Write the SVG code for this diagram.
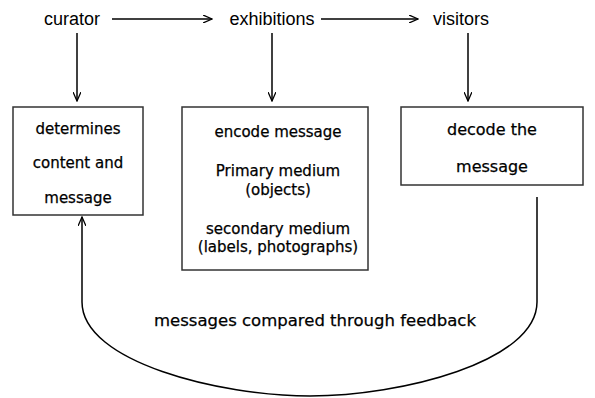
<svg xmlns="http://www.w3.org/2000/svg" width="595" height="398" viewBox="0 0 595 398">
<defs>
<marker id="ah" markerWidth="10" markerHeight="8" refX="9" refY="4" orient="auto" markerUnits="userSpaceOnUse">
<path d="M0,0 L9,4 L0,8" fill="none" stroke="#000" stroke-width="1.3"/>
</marker>
<style>
.top{font-family:"Liberation Sans",Arial,sans-serif;font-size:18px;fill:#000;text-anchor:middle}
.bx{font-family:"DejaVu Sans",sans-serif;font-size:15px;fill:#000;stroke:#000;stroke-width:0.25;text-anchor:middle}
.box{fill:#fff;stroke:#333;stroke-width:1.5}
.ln{fill:none;stroke:#000;stroke-width:1.5}
</style>
</defs>
<rect width="595" height="398" fill="#fff"/>
<g id="curator"><text class="top" x="72" y="25">curator</text></g>
<g id="exhibitions"><text class="top" x="272" y="25">exhibitions</text></g>
<g id="visitors"><text class="top" x="461" y="25">visitors</text></g>
<g id="box-curator">
<rect class="box" x="13" y="107" width="130" height="108"/>
<text class="bx" x="78" y="134">determines</text>
<text class="bx" x="78" y="168">content and</text>
<text class="bx" x="78" y="203">message</text>
</g>
<g id="box-exhibitions">
<rect class="box" x="182" y="107" width="186" height="163"/>
<text class="bx" x="278" y="137">encode message</text>
<text class="bx" x="278" y="176">Primary medium</text>
<text class="bx" x="278" y="195">(objects)</text>
<text class="bx" x="278" y="234">secondary medium</text>
<text class="bx" x="278" y="252">(labels, photographs)</text>
</g>
<g id="box-visitors">
<rect class="box" x="401" y="107" width="182" height="78"/>
<text class="bx" x="492" y="135" style="font-size:16px">decode the</text>
<text class="bx" x="492" y="172" style="font-size:16px">message</text>
</g>
<g id="feedback-label"><text class="bx" x="315" y="326" style="font-size:16.5px">messages compared through feedback</text></g>
<g id="connectors">
<line class="ln" x1="112" y1="19" x2="212" y2="19" marker-end="url(#ah)"/>
<line class="ln" x1="321" y1="19" x2="418" y2="19" marker-end="url(#ah)"/>
<line class="ln" x1="77" y1="33" x2="77" y2="101" marker-end="url(#ah)"/>
<line class="ln" x1="272" y1="33" x2="272" y2="101" marker-end="url(#ah)"/>
<line class="ln" x1="468" y1="33" x2="468" y2="101" marker-end="url(#ah)"/>
<path class="ln" d="M537,197 L537,302 C537,362 400,396 310,396 C220,396 82,362 82,302 L82,217" marker-end="url(#ah)"/>
</g>
</svg>
